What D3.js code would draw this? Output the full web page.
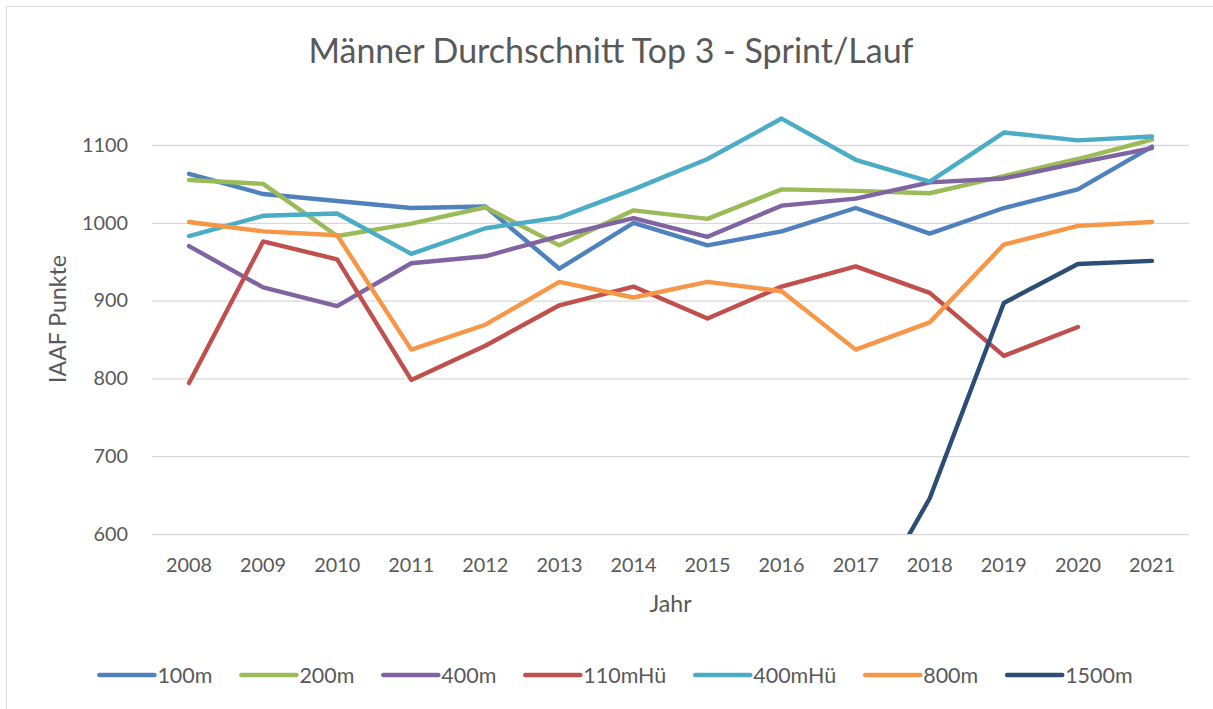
<!DOCTYPE html>
<html>
<head>
<meta charset="utf-8">
<script src="https://cdn.jsdelivr.net/npm/d3@7"></script>
<style>
  html, body { margin: 0; padding: 0; background: #fff; }
  svg { display: block; font-family: Lato, "Open Sans", sans-serif; }
</style>
</head>
<body>
<svg id="chart" width="1213" height="709"></svg>
<script>
const years = ["2008","2009","2010","2011","2012","2013","2014","2015","2016","2017","2018","2019","2020","2021"];
const yTicks = [600, 700, 800, 900, 1000, 1100];
const seriesNames = ["100m", "200m", "400m", "110mHü", "400mHü", "800m", "1500m"];
const seriesColors = ["#4F81BD", "#9BBB59", "#8064A2", "#C0504D", "#4BACC6", "#F79646", "#2C4D75"];

const m100   = [1063, 1037, 1028, 1019, 1021, 941, 1000, 971, 989, 1019, 986, 1019, 1043, 1098];
const m200   = [1055, 1050, 983, 999, 1020, 971, 1016, 1005, 1043, 1041, 1038, 1060, 1082, 1107];
const m400   = [970, 917, 893, 948, 957, 983, 1006, 982, 1022, 1031, 1052, 1057, 1077, 1096];
const m110h  = [794, 976, 953, 798, 842, 894, 918, 877, 918, 944, 910, 829, 866, null];
const m400h  = [983, 1009, 1012, 960, 993, 1007, 1043, 1082, 1134, 1081, 1053, 1116, 1106, 1111];
const m800   = [1001, 989, 984, 837, 869, 924, 904, 924, 912, 837, 872, 972, 996, 1001];
const m1500  = [null, null, null, null, null, null, null, null, null, 478, 646, 897, 947, 951];

const seriesValues = [m100, m200, m400, m110h, m400h, m800, m1500];

const title = "Männer Durchschnitt Top 3 - Sprint/Lauf";
const xTitle = "Jahr";
const yTitle = "IAAF Punkte";

const svg = d3.select("#chart");
const textColor = "#595959";
const plot = { left: 152, right: 1189, top: 145, bottom: 534 };

// chart border
svg.append("rect")
  .attr("x", 6.5).attr("y", 6.5)
  .attr("width", 1230).attr("height", 720)
  .attr("fill", "#fff").attr("stroke", "#D9D9D9").attr("stroke-width", 1);

// helper to fit a font size to a target width
function fitSize(sample, targetWidth, weight) {
  const t = svg.append("text").attr("font-size", 100).attr("font-weight", weight || 400).text(sample);
  const w = t.node().getComputedTextLength();
  t.remove();
  return 100 * targetWidth / w;
}

const tickSize = fitSize("2008", 46);
const legendSize = fitSize("100m", 55);
const axisTitleSize = fitSize(yTitle, 128);
const titleSize = fitSize(title, 605);

const x = d3.scaleBand().domain(years).range([plot.left, plot.right]).paddingInner(0).paddingOuter(0);
const xc = d => x(d) + x.bandwidth() / 2;
const y = d3.scaleLinear().domain([600, 1100]).range([plot.bottom, plot.top]);

// gridlines + y labels
const yAxis = d3.axisLeft(y).tickValues(yTicks).tickFormat(d3.format("d"))
  .tickSize(-(plot.right - plot.left)).tickPadding(24);
const gy = svg.append("g").attr("transform", `translate(${plot.left},0)`).call(yAxis);
gy.select(".domain").remove();
gy.selectAll(".tick line").attr("stroke", "#D9D9D9").attr("stroke-width", 1.3);
gy.selectAll(".tick text").attr("fill", textColor).attr("font-size", tickSize)
  .attr("font-family", "Lato, 'Open Sans', sans-serif").attr("x", -24);

// x axis labels
const xAxis = d3.axisBottom(x).tickSize(0).tickPadding(0);
const gx = svg.append("g").attr("transform", `translate(0,${plot.bottom})`).call(xAxis);
gx.select(".domain").remove();
gx.selectAll(".tick text").attr("fill", textColor).attr("font-size", tickSize)
  .attr("font-family", "Lato, 'Open Sans', sans-serif")
  .attr("dy", null).attr("y", 38);

// clip (bottom only)
svg.append("clipPath").attr("id", "clip")
  .append("rect").attr("x", plot.left - 10).attr("y", 0)
  .attr("width", plot.right - plot.left + 20).attr("height", plot.bottom);

const line = d3.line()
  .defined(d => d.v != null)
  .x(d => xc(d.year))
  .y(d => y(d.v));

const gl = svg.append("g").attr("clip-path", "url(#clip)");
seriesNames.forEach((name, i) => {
  const data = years.map((yr, j) => ({ year: yr, v: seriesValues[i][j] }));
  gl.append("path")
    .datum(data)
    .attr("d", line)
    .attr("fill", "none")
    .attr("stroke", seriesColors[i])
    .attr("stroke-width", 4.4)
    .attr("stroke-linejoin", "round")
    .attr("stroke-linecap", "round");
});

// title
svg.append("text")
  .attr("x", 611).attr("y", 63)
  .attr("text-anchor", "middle")
  .attr("fill", textColor)
  .attr("font-size", titleSize)
  .text(title);

// axis titles
svg.append("text")
  .attr("x", (plot.left + plot.right) / 2).attr("y", 612)
  .attr("text-anchor", "middle")
  .attr("fill", textColor)
  .attr("font-size", axisTitleSize)
  .text(xTitle);

svg.append("text")
  .attr("transform", `translate(66,319) rotate(-90)`)
  .attr("text-anchor", "middle")
  .attr("fill", textColor)
  .attr("font-size", axisTitleSize)
  .text(yTitle);

// legend
const swatchLen = 55, textGap = 3, itemGap = 29;
const lg = svg.append("g");
let cursor = 0;
seriesNames.forEach((name, i) => {
  const g = lg.append("g");
  g.append("line").attr("x1", 0).attr("x2", swatchLen).attr("y1", 0).attr("y2", 0)
    .attr("stroke", seriesColors[i]).attr("stroke-width", 4.6).attr("stroke-linecap", "round");
  const t = g.append("text").attr("x", swatchLen + textGap).attr("y", 8)
    .attr("fill", textColor).attr("font-size", legendSize).text(name);
  const w = swatchLen + textGap + t.node().getComputedTextLength();
  g.attr("transform", `translate(${cursor},0)`);
  cursor += w + itemGap;
});
const totalW = cursor - itemGap;
lg.attr("transform", `translate(${616 - totalW / 2},675)`);
</script>
</body>
</html>
